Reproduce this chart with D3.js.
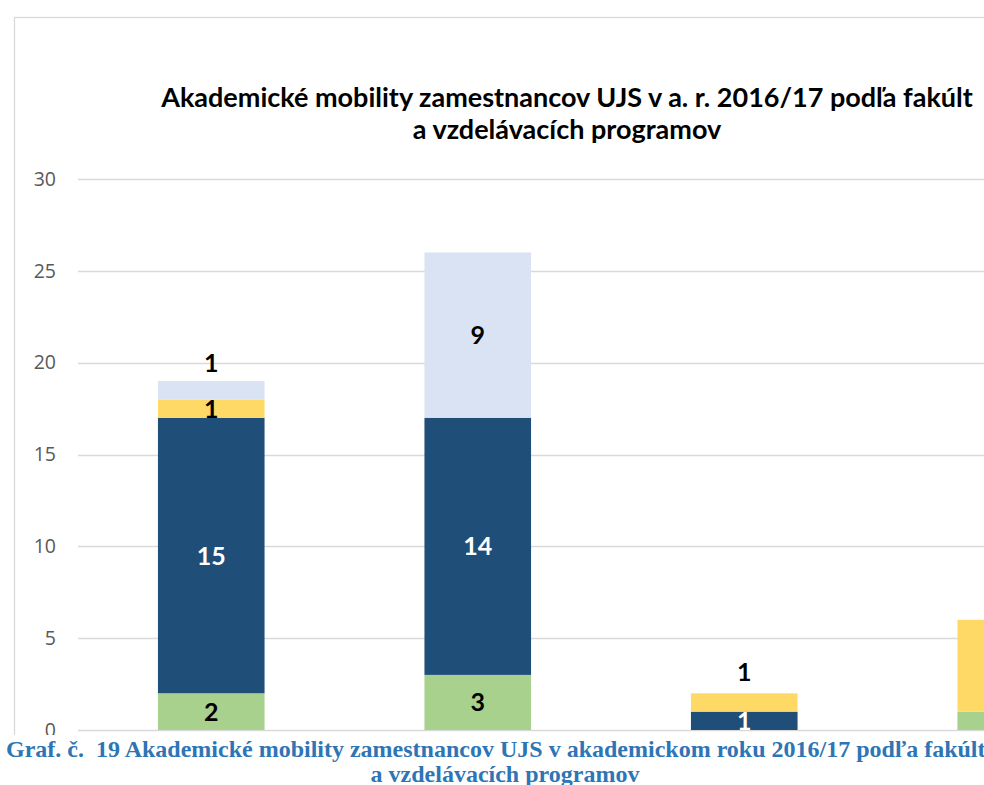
<!DOCTYPE html>
<html>
<head>
<meta charset="utf-8">
<script src="https://cdn.jsdelivr.net/npm/d3@7"></script>
<style>
body{margin:0;background:#fff;overflow:hidden;}
svg{display:block;}
</style>
</head>
<body>
<div id="chart"></div>
<script>
// faculties (axis labels are cut off in the source picture)
const faculties=["EF","PF","RTF","F4"];
const seriesNames=["s1","s2","s3","s4"];
const seriesColors=["#A9D18E","#1F4E79","#FFD966","#DAE3F3"];
const valGreen=[2,3,0,1];
const valDark=[15,14,1,0];
const valYellow=[1,0,1,5];
const valLight=[1,9,0,0];
// labels that were dragged above their segment (value units)
const shiftLight=[1.5,0,0,0];
const shiftYellow=[0,0,1.65,0];
const yTicks=[0,5,10,15,20,25,30];

const W=984,H=785;
const plotLeft=78,plotRight=1144,plotTop=179,plotBottom=730;

const svg=d3.select("#chart").append("svg")
  .attr("width",W).attr("height",H);

// chart frame
svg.append("rect")
  .attr("x",14.5).attr("y",17.5)
  .attr("width",1200).attr("height",900)
  .attr("fill","#fff").attr("stroke","#D9D9D9").attr("stroke-width",1.3);

const x=d3.scaleBand().domain(faculties).range([plotLeft,plotRight])
  .paddingInner(0.6).paddingOuter(0.3);
const y=d3.scaleLinear().domain([0,30]).range([plotBottom,plotTop]);

// grid
svg.append("g").selectAll("line").data(yTicks).enter().append("line")
  .attr("x1",plotLeft).attr("x2",plotRight+20)
  .attr("y1",d=>Math.round(y(d))+0.5).attr("y2",d=>Math.round(y(d))+0.5)
  .attr("stroke","#D9D9D9").attr("stroke-width",1.3);

const yAxis=d3.axisLeft(y).tickValues(yTicks).tickSize(0).tickPadding(0);
const ga=svg.append("g").attr("transform","translate(56,0)").call(yAxis);
ga.select(".domain").remove();
ga.selectAll("text").attr("fill","#595959")
  .style("font-family","'Open Sans',sans-serif").style("font-size","19.5px");

const tableRows=faculties.map((f,i)=>({fac:f,s1:valGreen[i],s2:valDark[i],s3:valYellow[i],s4:valLight[i]}));
const stacked=d3.stack().keys(seriesNames)(tableRows);
const shifts={s1:faculties.map(()=>0),s2:faculties.map(()=>0),s3:shiftYellow,s4:shiftLight};

stacked.forEach((layer,k)=>{
  const g=svg.append("g");
  g.selectAll("rect").data(layer).enter().append("rect")
    .attr("x",d=>x(d.data.fac))
    .attr("width",x.bandwidth())
    .attr("y",d=>y(d[1]))
    .attr("height",d=>y(d[0])-y(d[1]))
    .attr("fill",seriesColors[k]);
  g.selectAll("text").data(layer.map((d,i)=>({d:d,i:i})).filter(o=>o.d[1]-o.d[0]>0)).enter().append("text")
    .attr("x",o=>x(o.d.data.fac)+x.bandwidth()/2)
    .attr("y",o=>y((o.d[0]+o.d[1])/2+shifts[layer.key][o.i]))
    .attr("dy","0.36em")
    .attr("text-anchor","middle")
    .attr("fill",k===1?"#fff":"#000")
    .style("font-family","Lato,sans-serif").style("font-weight","bold").style("font-size","25px")
    .text(o=>o.d[1]-o.d[0]);
});

// title
const title=svg.append("text").attr("text-anchor","middle")
  .style("font-family","Lato,sans-serif").style("font-weight","bold").style("font-size","27px")
  .attr("fill","#000");
title.append("tspan").attr("x",567).attr("y",107).text("Akademické mobility zamestnancov UJS v a. r. 2016/17 podľa fakúlt");
title.append("tspan").attr("x",567).attr("y",139).text("a vzdelávacích programov");

// caption box over the bottom of the chart
svg.append("rect").attr("x",0).attr("y",735).attr("width",W).attr("height",60).attr("fill","#fff");
const cap=svg.append("text")
  .style("font-family","'Liberation Serif',serif").style("font-weight","bold").style("font-size","24px")
  .attr("fill","#2E75B6");
cap.append("tspan").attr("x",6).attr("y",757).attr("xml:space","preserve")
  .text("Graf. č.  19 Akademické mobility zamestnancov UJS v akademickom roku 2016/17 podľa fakúlt");
cap.append("tspan").attr("x",505).attr("y",782).attr("text-anchor","middle")
  .text("a vzdelávacích programov");
</script>
</body>
</html>
